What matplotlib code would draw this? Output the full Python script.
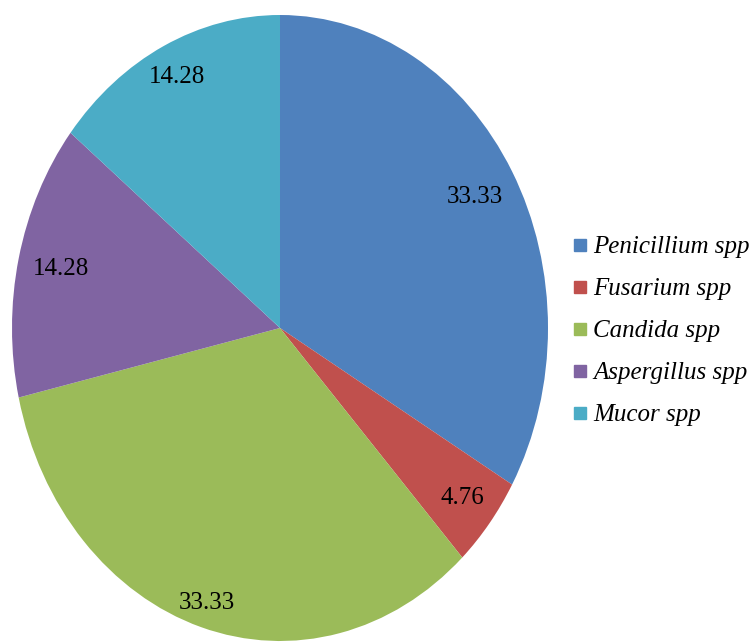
import matplotlib.pyplot as plt
import numpy as np
from matplotlib.lines import Line2D

# isolated fungal genera (%)
genera = ['Penicillium spp', 'Fusarium spp', 'Candida spp', 'Aspergillus spp', 'Mucor spp']
shares = [33.33, 4.76, 33.33, 14.28, 14.28]
value_labels = ['33.33', '4.76', '33.33', '14.28', '14.28']
colors = ['#4F81BD', '#C0504D', '#9BBB59', '#8064A2', '#4BACC6']

# radial position of each value label (fraction of radius)
label_dist = [0.84, 0.87, 0.92, 0.84, 0.89]

plt.rcParams['font.family'] = ['Liberation Serif', 'DejaVu Serif']

fig = plt.figure(figsize=(7.5, 6.42), dpi=100)
ax = fig.add_axes([12 / 750, 1 / 642, 536 / 750, 626 / 642])

wedges, _ = ax.pie(shares, colors=colors, startangle=90, counterclock=False,
                   radius=1.0, wedgeprops=dict(linewidth=0))
ax.set_aspect('auto')
ax.set_xlim(-1, 1)
ax.set_ylim(-1, 1)
ax.axis('off')

for w, txt, d in zip(wedges, value_labels, label_dist):
    mid = np.deg2rad((w.theta1 + w.theta2) / 2)
    ax.text(d * np.cos(mid), d * np.sin(mid), txt, ha='center', va='center',
            fontsize=18, color='black')

handles = [Line2D([], [], marker='s', linestyle='none', markersize=8,
                  markerfacecolor=c, markeredgecolor=c) for c in colors]
leg = fig.legend(handles, genera, loc='center left',
                 bbox_to_anchor=(572 / 750, 1 - 331 / 642),
                 frameon=False, handlelength=0.6, handletextpad=0.25,
                 labelspacing=0.78, borderpad=0, borderaxespad=0,
                 prop=dict(family='Liberation Serif', style='italic', size=18))

fig.savefig('out.png', dpi=100)
